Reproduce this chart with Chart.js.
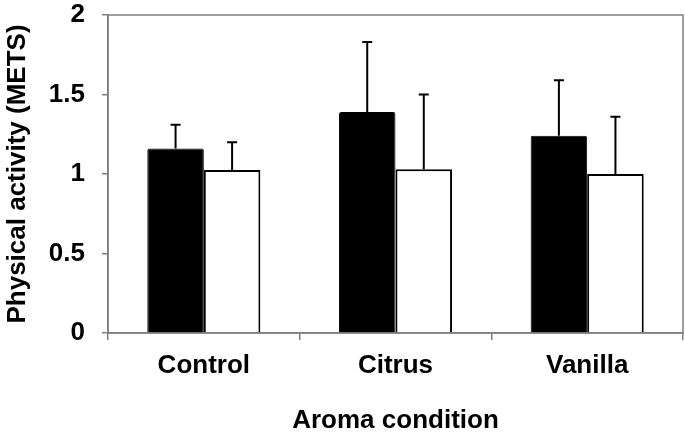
<!DOCTYPE html>
<html>
<head>
<meta charset="utf-8">
<script src="https://cdn.jsdelivr.net/npm/chart.js@4/dist/chart.umd.min.js"></script>
<style>
  html, body { margin: 0; padding: 0; background: #fff; }
  #wrap { width: 685px; height: 435px; }
</style>
</head>
<body>
<div id="wrap"><canvas id="aromaChart" width="685" height="435"></canvas></div>
<script>
// Aroma condition vs physical activity (METS)
const categories = ['Control', 'Citrus', 'Vanilla'];
const blackMeans = [1.16, 1.39, 1.24];
const blackErr = [0.15, 0.44, 0.35];
const whiteMeans = [1.025, 1.03, 1.00];
const whiteErr = [0.175, 0.47, 0.36];
const yTicks = [0, 0.5, 1, 1.5, 2];

const FONT = "'Liberation Sans', Arial, sans-serif";
const AXIS_GRAY = '#7f7f7f';

// upper error bars only
const errorBars = {
    id: 'errorBars',
    afterDatasetsDraw(chart) {
        const ctx = chart.ctx;
        const yScale = chart.scales.y;
        chart.data.datasets.forEach((ds, i) => {
            const meta = chart.getDatasetMeta(i);
            meta.data.forEach((bar, j) => {
                const top = yScale.getPixelForValue(ds.data[j] + ds.errors[j]);
                ctx.save();
                ctx.strokeStyle = '#000';
                ctx.lineWidth = 2;
                ctx.beginPath();
                ctx.moveTo(bar.x, bar.y);
                ctx.lineTo(bar.x, top);
                ctx.moveTo(bar.x - 5, top);
                ctx.lineTo(bar.x + 5, top);
                ctx.stroke();
                ctx.restore();
            });
        });
    }
};

// gray frame round the plot area
const plotFrame = {
    id: 'plotFrame',
    beforeDatasetsDraw(chart) {
        const {ctx, chartArea} = chart;
        ctx.save();
        ctx.strokeStyle = AXIS_GRAY;
        ctx.lineWidth = 1.5;
        ctx.strokeRect(chartArea.left, chartArea.top, chartArea.right - chartArea.left, chartArea.bottom - chartArea.top);
        ctx.restore();
    }
};

const ctx = document.getElementById('aromaChart').getContext('2d');
new Chart(ctx, {
    type: 'bar',
    data: {
        labels: categories,
        datasets: [{
            label: 'Series 1',
            data: blackMeans,
            errors: blackErr,
            backgroundColor: '#000',
            borderColor: '#000',
            borderWidth: 1,
            borderRadius: 2,
            categoryPercentage: 0.59,
            barPercentage: 1
        }, {
            label: 'Series 2',
            data: whiteMeans,
            errors: whiteErr,
            backgroundColor: '#fff',
            borderColor: '#000',
            borderWidth: 2,
            categoryPercentage: 0.59,
            barPercentage: 1
        }]
    },
    options: {
        responsive: false,
        devicePixelRatio: 1,
        animation: false,
        layout: { padding: { top: 15, right: 2, left: 0, bottom: 0 } },
        plugins: {
            legend: { display: false },
            tooltip: { enabled: false }
        },
        scales: {
            x: {
                grid: {
                    offset: true,
                    drawOnChartArea: false,
                    tickLength: 7,
                    color: AXIS_GRAY,
                    lineWidth: 1.5
                },
                border: { color: AXIS_GRAY, width: 1.5 },
                ticks: {
                    color: '#000',
                    padding: 10,
                    font: { family: FONT, size: 26, weight: 'bold' }
                },
                title: {
                    display: true,
                    text: 'Aroma condition',
                    color: '#000',
                    padding: { top: 0, bottom: 0 },
                    font: { family: FONT, size: 26, weight: 'bold', lineHeight: 1.1 }
                },
                afterFit: (scale) => {
                    scale.height = 102;
                    scale.paddingLeft = 0;
                    scale.paddingRight = 0;
                }
            },
            y: {
                min: 0,
                max: 2,
                afterBuildTicks: (scale) => { scale.ticks = yTicks.map(v => ({ value: v })); },
                grid: {
                    drawOnChartArea: false,
                    tickLength: 6,
                    color: AXIS_GRAY,
                    lineWidth: 1.5
                },
                border: { color: AXIS_GRAY, width: 1.5 },
                ticks: {
                    color: '#000',
                    padding: 17,
                    font: { family: FONT, size: 26, weight: 'bold' },
                    callback: (v) => String(v)
                },
                title: {
                    display: true,
                    text: 'Physical activity (METS)',
                    color: '#000',
                    padding: { top: 2, bottom: 0 },
                    font: { family: FONT, size: 26, weight: 'bold' }
                },
                afterFit: (scale) => {
                    scale.width = 108;
                    scale.paddingTop = 0;
                    scale.paddingBottom = 0;
                }
            }
        }
    },
    plugins: [plotFrame, errorBars]
});
</script>
</body>
</html>
